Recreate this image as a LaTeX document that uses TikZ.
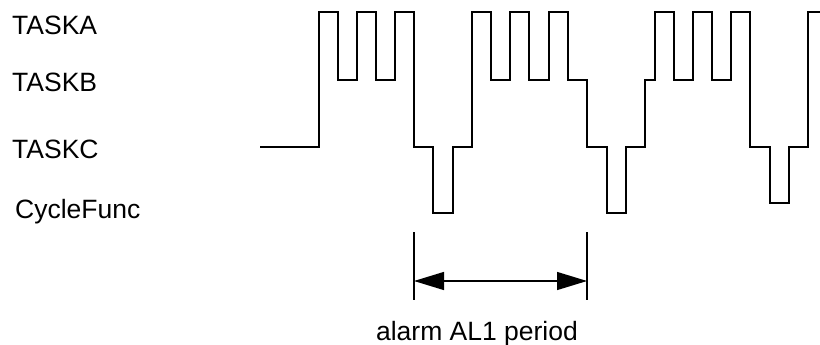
\documentclass[tikz,border=0pt]{standalone}
\usepackage{fontspec}
\setmainfont{Liberation Sans}
\usetikzlibrary{arrows.meta}

\begin{document}
\begin{tikzpicture}[
    x=1pt, y=-1pt,
    font=\fontsize{26.5}{30}\selectfont,
    lbl/.style={anchor=base west, inner sep=0pt},
    sig/.style={line width=1.8pt, line join=miter},
    mark line/.style={line width=1.3pt},
    span/.style={{Triangle[length=30pt,width=18pt]}-{Triangle[length=30pt,width=18pt]}, line width=1.3pt}
]
\useasboundingbox (0,0) rectangle (820,345);

% signal levels
\def\lA{12} \def\lB{80} \def\lC{147} \def\lD{213}

% task names
\node[lbl] (taska) at (12,35)  {TASKA};
\node[lbl] (taskb) at (12,92)  {TASKB};
\node[lbl] (taskc) at (12,158) {TASKC};
\node[lbl] (cycle) at (15,218) {CycleFunc};

% running task over time
\draw[sig] (260,\lC) -| (319,\lA) -| (338,\lB) -| (357,\lA) -| (376,\lB) -| (395,\lA)
    -| (414,\lC) -| (433,\lD) -| (453,\lC) -| (472,\lA) -| (491,\lB) -| (510,\lA)
    -| (529,\lB) -| (549,\lA) -| (568,\lB) -| (587,\lC) -| (607,\lD) -| (626,\lC)
    -| (645,\lB) -| (655,\lA) -| (674,\lB) -| (693,\lA) -| (712,\lB) -| (731,\lA)
    -| (750,\lC) -| (770,203) -| (789,\lC) -| (808,\lA) -- (822,\lA);

% alarm period
\draw[mark line] (414,232) -- (414,300);
\draw[mark line] (587,232) -- (587,300);
\coordinate (pstart) at (414,281);
\coordinate (pend) at (587,281);
\draw[span] (pstart) -- (pend);
\node[anchor=base, inner sep=0pt] (period) at (477,340) {alarm AL1 period};
\end{tikzpicture}
\end{document}
